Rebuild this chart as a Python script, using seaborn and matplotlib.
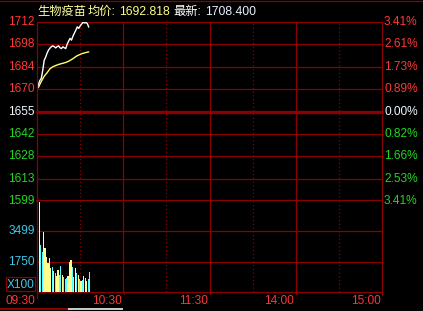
import numpy as np
import pandas as pd
import matplotlib
matplotlib.use("Agg")
import matplotlib.pyplot as plt
import seaborn as sns
from matplotlib import transforms
from matplotlib.patches import Rectangle
from matplotlib.lines import Line2D

# ---------------- data ----------------
name = "生物疫苗"
avg_label = "均价:"
avg_text = "1692.818"
last_label = "最新:"
last_text = "1708.400"
prev_close = 1655.2
limit_pct = 3.41

price = [1669.8, 1672.3, 1674.8, 1676.1, 1681.2, 1687.5, 1689.4, 1692.0, 1693.9, 1695.1,
         1696.1, 1696.6, 1696.1, 1695.3, 1696.1, 1696.6, 1695.4, 1694.9, 1696.0, 1695.4,
         1694.9, 1697.7, 1699.6, 1701.3, 1700.2, 1702.7, 1704.6, 1706.5, 1708.6, 1707.6,
         1709.1, 1710.3, 1711.5, 1711.0, 1711.3, 1710.7, 1708.4]
avg_price = [1669.8, 1670.4, 1672.3, 1674.2, 1675.8, 1677.4, 1678.6, 1679.6, 1680.9, 1682.1,
             1682.8, 1683.4, 1683.8, 1684.2, 1684.5, 1684.9, 1685.1, 1685.4, 1685.6, 1685.9,
             1686.1, 1686.5, 1686.9, 1687.4, 1688.0, 1688.5, 1689.2, 1689.8, 1690.4, 1690.8,
             1691.2, 1691.6, 1691.9, 1692.1, 1692.4, 1692.6, 1692.8]
volume = [1944, 5210, 2683, 2333, 3460, 2527, 2042, 1653, 1983, 1361,
          1419, 1225, 1069, 933, 1283, 972, 1517, 974, 875, 778,
          817, 933, 1711, 1867, 1419, 875, 1361, 1089, 992, 739,
          642, 700, 933, 817, 642, 739, 1167]
direction = ["up", "up", "down", "down", "up", "up", "up", "up", "up", "up",
             "down", "up", "down", "up", "up", "down", "down", "up", "down", "down",
             "down", "up", "up", "up", "down", "up", "up", "down", "up", "down",
             "up", "down", "up", "up", "up", "down", "down"]

left_labels = ["1712", "1698", "1684", "1670", "1655", "1642", "1628", "1613", "1599"]
right_labels = ["3.41%", "2.61%", "1.73%", "0.89%", "0.00%", "0.82%", "1.66%", "2.53%", "3.41%"]
vol_ticks = [3499, 1750]
vol_labels = ["3499", "1750"]
vol_max = 5249
vol_unit = "X100"
time_ticks = [0, 60, 120, 180, 240]
time_labels = ["09:30", "10:30", "11:30", "14:00", "15:00"]
half_ticks = [30, 90, 150, 210]

# ---------------- style ----------------
W, H = 423, 311
sns.set_theme(style="dark")
plt.rcParams["font.family"] = ["Liberation Sans", "Noto Sans CJK SC", "DejaVu Sans"]

RED_GRID = "#8c0000"
RED_TXT = "#ff3636"
GREEN_TXT = "#22d622"
WHITE_TXT = "#eef6ff"
CYAN_TXT = "#3cc8e8"
YEL_BAR = "#ffff8c"
CYAN_BAR = "#55ffff"
FS = 8.6

fig = plt.figure(figsize=(W / 100, H / 100), dpi=100, facecolor="black")


def fx(px):
    return px / W


def fy(py):
    return 1 - py / H


L, R = 37, 382
P_TOP, P_BOT, V_BOT = 22, 201, 292
ax_p = fig.add_axes([fx(L), fy(P_BOT), fx(R - L), (P_BOT - P_TOP) / H])
ax_v = fig.add_axes([fx(L), fy(V_BOT), fx(R - L), (V_BOT - P_BOT) / H])

minutes = np.arange(len(price))
step = prev_close * limit_pct / 100 / 4
levels = [prev_close + k * step for k in range(4, -5, -1)]

for ax in (ax_p, ax_v):
    ax.set_facecolor("black")
    for s in ax.spines.values():
        s.set_visible(False)
    ax.grid(False)
    ax.set_xticks([])
    ax.set_yticks([])
    ax.set_xlabel("")
    ax.set_ylabel("")

# price panel
df_p = pd.DataFrame({"minute": minutes, "price": price, "avg": avg_price})
sns.lineplot(data=df_p, x="minute", y="avg", ax=ax_p, color="#ffff66", lw=1.0, zorder=5)
sns.lineplot(data=df_p, x="minute", y="price", ax=ax_p, color="white", lw=1.0, zorder=6)
ax_p.set_xlim(0, 240)
ax_p.set_ylim(levels[-1], levels[0])
ax_p.set_xlabel("")
ax_p.set_ylabel("")
for k, lv in enumerate(levels):
    if k == 4:
        lw = 2.4
    elif k == 8:
        lw = 1.6
    else:
        lw = 0.9
    ax_p.axhline(lv, color=RED_GRID, lw=lw, zorder=1, clip_on=False)
for t in time_ticks[1:-1]:
    ax_p.axvline(t, color=RED_GRID, lw=0.9, zorder=1)
for t in half_ticks:
    ax_p.axvline(t, color=RED_GRID, lw=0.9, ls=(0, (1, 2)), zorder=1)

# volume panel
df_v = pd.DataFrame({"minute": minutes + 0.6, "volume": volume, "dir": direction})
sns.barplot(data=df_v, x="minute", y="volume", hue="dir",
            palette={"up": YEL_BAR, "down": CYAN_BAR}, native_scale=True,
            dodge=False, width=0.85, errorbar=None, legend=False,
            saturation=1, linewidth=0, ax=ax_v, zorder=5)
ax_v.set_xlim(0, 240)
ax_v.set_ylim(0, vol_max)
ax_v.set_xticks([])
ax_v.set_yticks([])
ax_v.set_xlabel("")
ax_v.set_ylabel("")
for v in vol_ticks:
    ax_v.axhline(v, color=RED_GRID, lw=0.9, zorder=1)
ax_v.axhline(0, color=RED_GRID, lw=0.9, zorder=1, clip_on=False)
for t in time_ticks[1:-1]:
    ax_v.axvline(t, color=RED_GRID, lw=0.9, zorder=1)
for t in half_ticks:
    ax_v.axvline(t, color=RED_GRID, lw=0.9, ls=(0, (1, 2)), zorder=1)

# outer borders (left/right) extending a bit below
for xp, yb in ((L, 298), (R, 295)):
    fig.add_artist(Line2D([fx(xp), fx(xp)], [fy(P_TOP), fy(yb)], color=RED_GRID, lw=0.9))
for xp in (123.5, 210, 296):
    fig.add_artist(Line2D([fx(xp), fx(xp)], [fy(V_BOT), fy(294)], color=RED_GRID, lw=0.9))

# top line, bottom scroll bar
fig.add_artist(Line2D([0, 1], [fy(1), fy(1)], color=RED_GRID, lw=0.9))
fig.add_artist(Rectangle((0, fy(310)), fx(68), 1.6 / H, color="#8c0000", lw=0))
fig.add_artist(Rectangle((fx(68), fy(310)), fx(55), 1.6 / H, color="#c8c8c8", lw=0))

# price labels
left_tr = transforms.offset_copy(ax_p.get_yaxis_transform(), fig=fig, x=-2.2, y=0, units="dots")
right_tr = transforms.offset_copy(ax_p.get_yaxis_transform(), fig=fig, x=2, y=0, units="dots")
for k, (lv, lt, rt) in enumerate(zip(levels, left_labels, right_labels)):
    col = RED_TXT if k < 4 else (WHITE_TXT if k == 4 else GREEN_TXT)
    ax_p.text(0, lv, lt, transform=left_tr, ha="right", va="center", color=col, fontsize=FS, clip_on=False)
    ax_p.text(1, lv, rt, transform=right_tr, ha="left", va="center", color=col, fontsize=FS, clip_on=False)

# volume labels
vleft_tr = transforms.offset_copy(ax_v.get_yaxis_transform(), fig=fig, x=-2.2, y=0, units="dots")
for v, lab in zip(vol_ticks, vol_labels):
    ax_v.text(0, v, lab, transform=vleft_tr, ha="right", va="center", color=CYAN_TXT, fontsize=FS, clip_on=False)
fig.add_artist(Rectangle((fx(6), fy(291)), fx(29), 14 / H, fill=False, edgecolor=RED_GRID, lw=0.9))
fig.text(fx(20.5), fy(284.5), vol_unit, ha="center", va="center", color=CYAN_TXT, fontsize=FS)

# time labels
time_tr = transforms.offset_copy(ax_v.get_xaxis_transform(), fig=fig, x=-1.5, y=-8.5, units="dots")
for t, lab in zip(time_ticks, time_labels):
    ax_v.text(t, 0, lab, transform=time_tr, ha="right", va="center", color=RED_TXT, fontsize=FS, clip_on=False)

# title
TFS = 8.8
ty = fy(12)
fig.text(fx(37), ty, name, color="#ffff9a", fontsize=TFS, va="center", ha="left")
fig.text(fx(88), ty, avg_label, color="#ffff9a", fontsize=TFS, va="center", ha="left")
fig.text(fx(119), ty, avg_text, color="#ffff80", fontsize=TFS, va="center", ha="left")
fig.text(fx(173), ty, last_label, color="white", fontsize=TFS, va="center", ha="left")
fig.text(fx(205), ty, last_text, color="#e6f2ff", fontsize=TFS, va="center", ha="left")

fig.savefig("out.png", dpi=100, facecolor="black")
